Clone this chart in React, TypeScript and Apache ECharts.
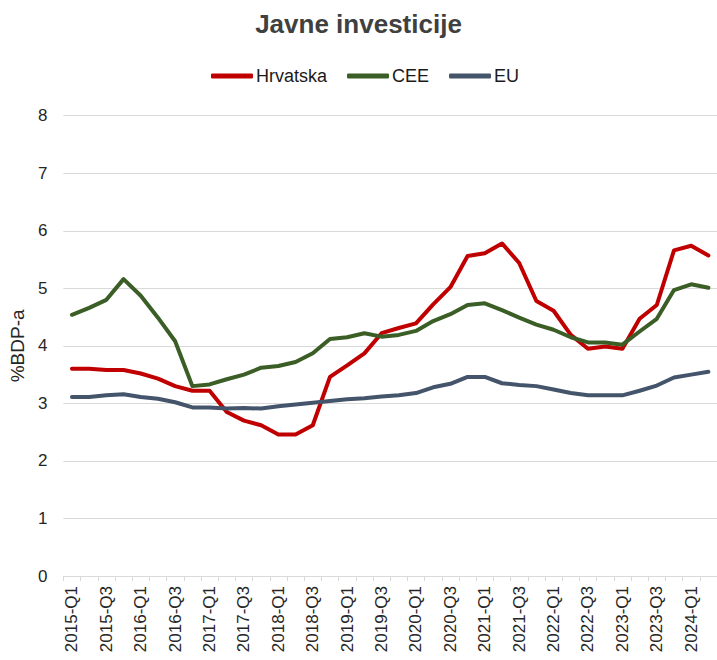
import React, { useEffect, useRef } from "react";
import * as echarts from "echarts";

const categories = [
  "2015-Q1", "2015-Q2", "2015-Q3", "2015-Q4",
  "2016-Q1", "2016-Q2", "2016-Q3", "2016-Q4",
  "2017-Q1", "2017-Q2", "2017-Q3", "2017-Q4",
  "2018-Q1", "2018-Q2", "2018-Q3", "2018-Q4",
  "2019-Q1", "2019-Q2", "2019-Q3", "2019-Q4",
  "2020-Q1", "2020-Q2", "2020-Q3", "2020-Q4",
  "2021-Q1", "2021-Q2", "2021-Q3", "2021-Q4",
  "2022-Q1", "2022-Q2", "2022-Q3", "2022-Q4",
  "2023-Q1", "2023-Q2", "2023-Q3", "2023-Q4",
  "2024-Q1", "2024-Q2",
];

const hrvatska = [
  3.6, 3.6, 3.58, 3.58, 3.52, 3.43, 3.3, 3.22, 3.22, 2.85,
  2.7, 2.62, 2.46, 2.46, 2.62, 3.46, 3.66, 3.87, 4.22, 4.31,
  4.39, 4.72, 5.02, 5.56, 5.61, 5.78, 5.44, 4.78, 4.61, 4.19,
  3.95, 3.99, 3.95, 4.47, 4.71, 5.66, 5.74, 5.57,
];

const cee = [
  4.54, 4.66, 4.8, 5.16, 4.87, 4.49, 4.08, 3.3, 3.33, 3.42,
  3.5, 3.62, 3.65, 3.72, 3.87, 4.12, 4.15, 4.22, 4.16, 4.19,
  4.26, 4.43, 4.55, 4.71, 4.74, 4.62, 4.49, 4.37, 4.28, 4.15,
  4.06, 4.06, 4.02, 4.25, 4.47, 4.97, 5.07, 5.01,
];

const eu = [
  3.11, 3.11, 3.14, 3.16, 3.11, 3.08, 3.02, 2.93, 2.93, 2.91,
  2.92, 2.91, 2.95, 2.98, 3.01, 3.04, 3.07, 3.09, 3.12, 3.14,
  3.18, 3.28, 3.34, 3.46, 3.46, 3.35, 3.32, 3.3, 3.24, 3.18,
  3.14, 3.14, 3.14, 3.22, 3.31, 3.45, 3.5, 3.55,
];

const seriesNames = ["Hrvatska", "CEE", "EU"];
const seriesColors = ["#C00000", "#3B5E26", "#44546A"];
const yTicks = [0, 1, 2, 3, 4, 5, 6, 7, 8];

const FONT = "'Liberation Sans', Arial, sans-serif";

export default function App() {
  const ref = useRef<HTMLDivElement>(null);

  useEffect(() => {
    if (!ref.current) return;
    const chart = echarts.init(ref.current, undefined, { renderer: "svg" });
    const data = [hrvatska, cee, eu];
    chart.setOption({
      animation: false,
      backgroundColor: "#ffffff",
      title: {
        text: "Javne investicije",
        left: "center",
        top: 6,
        textStyle: {
          fontFamily: FONT,
          fontSize: 26,
          fontWeight: "bold",
          color: "#404040",
        },
      },
      legend: {
        top: 62,
        left: 206,
        icon: "roundRect",
        itemWidth: 42,
        itemHeight: 5,
        itemGap: 20,
        textStyle: { fontFamily: FONT, fontSize: 18, color: "#1a1a1a", padding: [0, 0, 0, -2] },
        data: seriesNames,
      },
      grid: {
        left: 63.3,
        right: -3.6,
        top: 115.7,
        bottom: 84,
        containLabel: false,
      },
      xAxis: {
        type: "category",
        data: categories,
        boundaryGap: true,
        axisLine: { show: true, lineStyle: { color: "#D9D9D9", width: 1 } },
        axisTick: { show: true, length: 5, interval: 0, lineStyle: { color: "#D9D9D9" } },
        axisLabel: {
          rotate: 90,
          interval: 1,
          margin: 10,
          fontFamily: FONT,
          fontSize: 17,
          color: "#262626",
        },
        splitLine: { show: false },
      },
      yAxis: {
        type: "value",
        min: yTicks[0],
        max: yTicks[yTicks.length - 1],
        interval: 1,
        name: "%BDP-a",
        nameLocation: "middle",
        nameRotate: 90,
        nameGap: 31,
        nameTextStyle: { fontFamily: FONT, fontSize: 19, color: "#262626" },
        axisLine: { show: false },
        axisTick: { show: false },
        axisLabel: {
          margin: 16,
          fontFamily: FONT,
          fontSize: 17,
          color: "#262626",
        },
        splitLine: { show: true, lineStyle: { color: "#D9D9D9", width: 1 } },
      },
      series: seriesNames.map((name, i) => ({
        name,
        type: "line",
        data: data[i],
        symbol: "none",
        smooth: false,
        color: seriesColors[i],
        lineStyle: { width: 4, color: seriesColors[i], cap: "round", join: "round" },
      })),
    });
    return () => chart.dispose();
  }, []);

  return (
    <div
      ref={ref}
      style={{ position: "fixed", left: 0, top: 0, width: 717, height: 660, background: "#fff" }}
    />
  );
}
